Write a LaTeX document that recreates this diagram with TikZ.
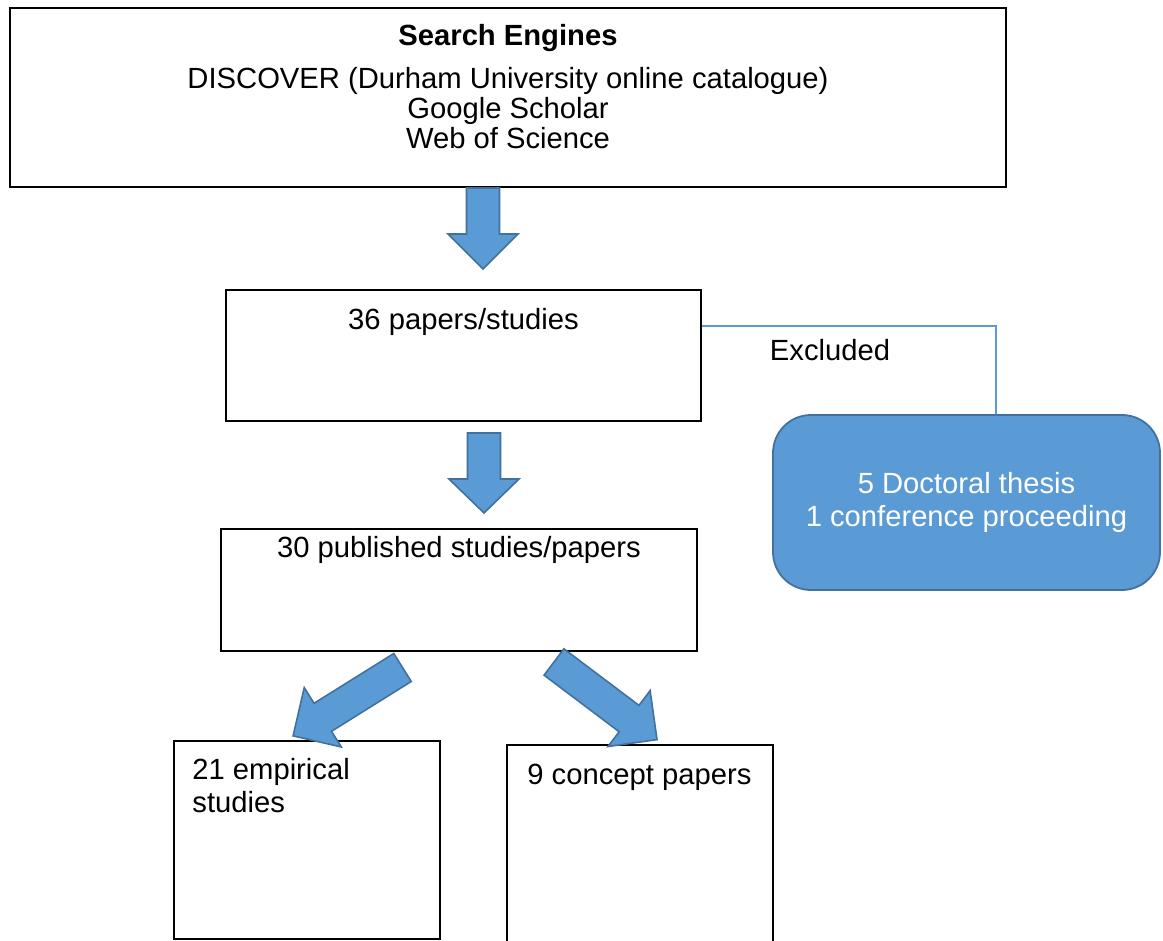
\documentclass[tikz,border=0pt]{standalone}
\usepackage{fontspec}
\setmainfont{Liberation Sans}
\usetikzlibrary{positioning}

\definecolor{arrowfill}{HTML}{5B9BD5}
\definecolor{arrowedge}{HTML}{41719C}

\tikzset{
  box/.style={draw=black, line width=1pt, rectangle, inner sep=0pt},
  exclbox/.style={draw=arrowedge, fill=arrowfill, line width=0.9pt, rounded corners=19pt, text=white, align=center, font=\fontsize{14.6}{16.5}\selectfont},
  txt/.style={inner sep=0pt, font=\fontsize{14.6}{15}\selectfont},
  link/.style={draw=arrowfill, line width=0.6pt},
  pics/fatarrow/.style 2 args={code={
    \filldraw[draw=arrowedge, fill=arrowfill, line width=0.8pt, line join=miter]
      (0,-16.5) -- (#1,-16.5) -- (#1,-35) -- (#2,0) -- (#1,35) -- (#1,16.5) -- (0,16.5) -- cycle;
  }}
}

\begin{document}
\begin{tikzpicture}[x=0.5pt, y=-0.5pt]
  \useasboundingbox (0,0) rectangle (1163,941);

  % boxes
  \node[box, minimum width=498pt, minimum height=89.5pt] (search) at (508,97.5) {};
  \node[box, minimum width=237.5pt, minimum height=65.5pt] (papers) at (463.5,355.5) {};
  \node[box, minimum width=238pt, minimum height=61pt] (published) at (459,590) {};
  \node[box, minimum width=133pt, minimum height=99pt] (empirical) at (307,840) {};
  \node[box, minimum width=133pt, minimum height=110pt] (concept) at (640,855) {};
  \node[exclbox, minimum width=193.5pt, minimum height=87.5pt] (excl) at (966.5,502.5)
    {5 Doctoral thesis\\1 conference proceeding};

  % texts
  \node[txt, align=center, below=8.5pt of search.north] (searchtxt)
    {\textbf{Search Engines}\\[6.5pt]DISCOVER (Durham University online catalogue)\\Google Scholar\\Web of Science};
  \node[txt, below=9.5pt of papers.north] (paperstxt) {36 papers/studies};
  \node[txt, below=4pt of published.north] (publishedtxt) {30 published studies/papers};
  \node[txt, align=left, below right=9pt and 9.5pt of empirical.north west] (empiricaltxt)
    {21 empirical\\[1.5pt]studies};
  \node[txt, below right=10pt and 10.5pt of concept.north west] (concepttxt) {9 concept papers};

  % excluded branch
  \draw[link] ([yshift=14.75pt]papers.east) -| ([xshift=14.75pt]excl.north);
  \node[txt] (excltxt) at (830,350) {Excluded};

  % block arrows
  \pic[rotate=-90] at ([xshift=-12.5pt]search.south) {fatarrow={46}{81}};
  \pic[rotate=-90] at ([xshift=10.25pt,yshift=-5.5pt]papers.south) {fatarrow={46}{80}};
  \pic[rotate=212] at ([xshift=-28.25pt,yshift=-7.75pt]published.south) {fatarrow={94}{129}};
  \pic[rotate=-37] at ([xshift=47.5pt,yshift=-5pt]published.south) {fatarrow={94}{129}};
\end{tikzpicture}
\end{document}
